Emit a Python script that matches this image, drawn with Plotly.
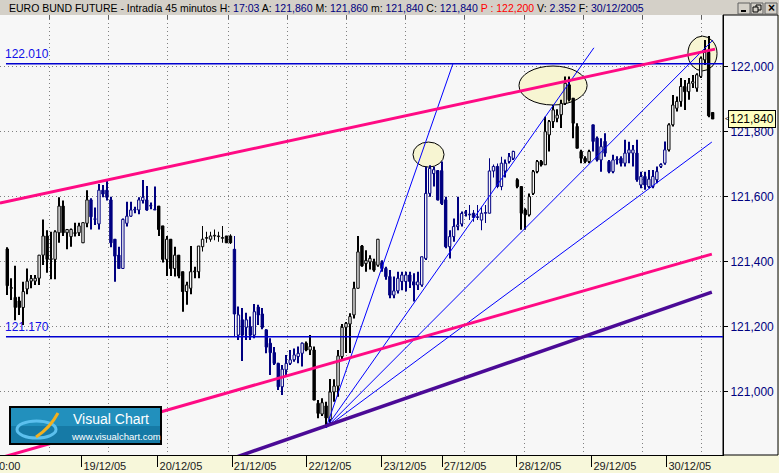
import plotly.graph_objects as go

# ---------------- data ----------------
days = ["16/12/05", "19/12/05", "20/12/05", "21/12/05", "22/12/05",
        "23/12/05", "27/12/05", "28/12/05", "29/12/05", "30/12/05"]
# x positions (bar index) of the date ticks for days[1:]
day_tick_pos = [18.7, 37.8, 56.4, 75.2, 94.0, 109.1, 127.9, 146.7, 165.5]
grid_pos = [10.7, 25.5, 40.3, 55.4, 70.2, 85.2, 99.8, 114.8, 129.7, 144.5, 159.5, 174.1]
price_ticks = [121000, 121200, 121400, 121600, 121800, 122000]

# (open, high, low, close) per 45-minute bar, one list per session
d16 = [(121440,121445,121298,121327),(121319,121350,121283,121319),(121291,121388,121221,121260),
       (121280,121293,121237,121260),(121260,121339,121206,121309),(121317,121380,121301,121341),
       (121341,121360,121319,121349),(121341,121360,121329,121350),(121350,121421,121329,121421),
       (121421,121531,121391,121480),(121480,121498,121367,121408),(121408,121493,121347,121408),
       (121408,121498,121347,121493),(121490,121599,121459,121572),(121572,121589,121480,121490),
       (121490,121500,121439,121500),(121478,121503,121447,121500),(121490,121521,121478,121488),
       (121490,121521,121480,121511),(121459,121521,121459,121521),(121519,121621,121507,121591)]
d19 = [(121591,121596,121500,121539),(121531,121568,121514,121531),(121517,121640,121500,121621),
       (121621,121637,121599,121609),(121621,121652,121589,121599),(121591,121601,121445,121459),
       (121470,121470,121339,121418),(121421,121447,121380,121380),(121380,121534,121380,121531),
       (121519,121585,121509,121541),(121541,121585,121539,121560),(121560,121570,121550,121560),
       (121560,121599,121547,121591),(121589,121652,121580,121599),(121591,121634,121558,121560),
       (121572,121583,121562,121572),(121560,121632,121560,121560)]
d20 = [(121572,121572,121480,121500),(121511,121511,121398,121408),(121408,121480,121357,121470),
       (121470,121470,121357,121380),(121380,121447,121355,121421),(121421,121421,121350,121357),
       (121370,121370,121247,121309),(121309,121339,121268,121329),(121319,121449,121301,121370),
       (121370,121385,121350,121370),(121370,121449,121350,121449),(121447,121511,121432,121470),
       (121473,121493,121459,121473),(121470,121493,121462,121480),(121480,121500,121467,121480),
       (121478,121493,121462,121478),(121473,121511,121459,121473),(121480,121480,121459,121459),
       (121480,121485,121455,121459)]
d21 = [(121439,121480,121170,121240),(121175,121263,121160,121237),(121222,121258,121095,121175),
       (121199,121244,121160,121222),(121201,121232,121160,121175),(121175,121271,121165,121247),
       (121261,121268,121206,121237),(121240,121258,121193,121199),(121191,121193,121119,121138),
       (121150,121165,121052,121121),(121121,121138,121083,121088),(121088,121090,121006,121016),
       (121016,121083,120991,121070),(121068,121114,121047,121088),(121088,121129,121083,121099),
       (121099,121134,121093,121114),(121109,121140,121088,121119),(121119,121152,121078,121150)]
d22 = [(121150,121155,121125,121129),(121129,121175,121114,121140),(121129,121140,120975,120975),
       (120965,120975,120919,120934),(120932,120981,120926,120967),(120957,120970,120890,120920),
       (120915,121040,120900,121000),(121000,121039,120970,121018),(121018,121129,120985,121111),
       (121109,121209,121100,121199),(121199,121215,121120,121211),(121209,121242,121120,121232),
       (121237,121339,121226,121319),(121319,121480,121319,121431),(121449,121452,121385,121388),
       (121395,121436,121370,121405),(121400,121421,121377,121411),(121401,121410,121370,121375),
       (121390,121470,121385,121470)]
d23 = [(121398,121405,121370,121380),(121380,121385,121345,121355),(121355,121375,121288,121298),
       (121298,121355,121288,121311),(121311,121370,121303,121350),(121340,121370,121313,121360),
       (121340,121370,121309,121360),(121360,121370,121320,121340),(121339,121365,121278,121329),
       (121329,121370,121314,121339),(121329,121416,121324,121416),(121411,121693,121406,121611),
       (121611,121698,121601,121688),(121672,121693,121632,121684),(121681,121683,121589,121591)]
d27 = [(121681,121709,121575,121580),(121591,121601,121442,121447),(121447,121498,121411,121478),
       (121478,121534,121462,121509),(121509,121601,121498,121514),(121517,121555,121509,121549),
       (121550,121560,121540,121550),(121545,121575,121529,121545),(121550,121560,121524,121537),
       (121537,121575,121529,121537),(121529,121570,121498,121550),(121550,121575,121520,121550),
       (121550,121719,121550,121680),(121680,121700,121660,121694),(121694,121703,121627,121632),
       (121632,121724,121621,121704),(121680,121715,121660,121704),(121709,121735,121703,121724),
       (121719,121742,121714,121740)]
d28 = [(121653,121658,121627,121632),(121632,121632,121499,121550),(121560,121565,121499,121545),
       (121545,121611,121540,121601),(121611,121683,121606,121678),(121678,121714,121673,121709),
       (121709,121714,121694,121699),(121699,121847,121699,121801),(121791,121837,121740,121832),
       (121832,121883,121812,121868),(121842,121870,121830,121852),(121853,121899,121812,121888),
       (121888,121971,121883,121950),(121945,121971,121894,121899),(121904,121904,121781,121827),
       (121817,121827,121750,121750),(121740,121745,121704,121719),(121719,121725,121704,121709),
       (121709,121745,121704,121740)]
d29 = [(121822,121822,121740,121771),(121781,121786,121709,121714),(121714,121781,121678,121755),
       (121771,121796,121724,121735),(121709,121714,121673,121678),(121678,121730,121673,121714),
       (121714,121725,121700,121714),(121719,121725,121694,121704),(121704,121776,121694,121735),
       (121735,121770,121704,121745),(121735,121760,121694,121745),(121735,121776,121647,121653),
       (121637,121678,121627,121663),(121663,121678,121622,121637),(121632,121683,121627,121655),
       (121632,121683,121627,121663),(121653,121694,121642,121678),(121694,121704,121689,121700),
       (121704,121771,121699,121745)]
d30 = [(121745,121827,121740,121822),(121822,121914,121817,121883),(121873,121909,121863,121894),
       (121894,121966,121878,121940),(121940,121960,121868,121924),(121924,121966,121899,121950),
       (121950,121975,121935,121955),(121935,121981,121924,121976),(121971,122032,121966,122027),
       (122022,122083,122006,122045),(122045,122095,121845,121850),(121860,121860,121840,121840)]
sessions = [d16, d19, d20, d21, d22, d23, d27, d28, d29, d30]

# drawn studies: (bar index, price) end points
upper_channel = ([-1.83, 177.6], [121581, 122055])
lower_channel = ([-1.83, 176.8], [120797, 121424])
support_line = ([55.9, 176.8], [120793, 121307])
levels = [122010, 121170]
fan_origin = (80, 120890)
fan_ends = [(111.8, 122009), (147.2, 122059), (177.1, 122083), (176.8, 121769)]
highlight_ellipses = [((101.8, 109.6), (121692, 121769)),
                      ((128.4, 145.5), (121883, 122003)),
                      ((170.8, 178.1), (121988, 122095))]
last_price = 121840

# ---------------- figure ----------------
BG = "#f7f7f7"
NAVY = "#000080"
FONT = "Liberation Sans, Arial, sans-serif"
X_RANGE = [-1.83, 179.6]
Y_RANGE = [120806, 122160]
PLOT_W, PLOT_H, TOP, BOTTOM_PX = 723, 440, 15, 455

def px_x(px):
    return px / PLOT_W

def px_y(py):
    return (BOTTOM_PX - py) / PLOT_H

fig = go.Figure()

groups = {"black": ([], [], [], [], []), "navy": ([], [], [], [], [])}
idx = 0
for day, bars in zip(days, sessions):
    key = "navy" if int(day[:2]) % 2 else "black"
    g = groups[key]
    for o, h, l, c in bars:
        g[0].append(idx); g[1].append(o); g[2].append(h); g[3].append(l); g[4].append(c)
        idx += 1

for key, col in (("black", "#000000"), ("navy", NAVY)):
    xs, op, hi, lo, cl = groups[key]
    # wicks
    fig.add_trace(go.Bar(x=xs, base=lo, y=[h - l for h, l in zip(hi, lo)], width=0.22,
                         marker=dict(color=col, line=dict(width=0)),
                         hoverinfo="skip", showlegend=False))
    # bodies
    fig.add_trace(go.Bar(x=xs, base=[min(o, c) for o, c in zip(op, cl)],
                         y=[max(abs(c - o), 2) for o, c in zip(op, cl)], width=0.6,
                         marker=dict(color=[BG if c >= o else col for o, c in zip(op, cl)],
                                     line=dict(color=col, width=1)),
                         hoverinfo="skip", showlegend=False))

# level lines
for lv in levels:
    fig.add_trace(go.Scatter(x=[-0.33, X_RANGE[1]], y=[lv, lv], mode="lines",
                             line=dict(color="#0000d0", width=1.5),
                             hoverinfo="skip", showlegend=False))
# fan lines
for ex, ey in fan_ends:
    fig.add_trace(go.Scatter(x=[fan_origin[0], ex], y=[fan_origin[1], ey], mode="lines",
                             line=dict(color="#0000ff", width=1),
                             hoverinfo="skip", showlegend=False))
# channels
for (xs, ys), col, w in ((upper_channel, "#ff0a84", 3), (lower_channel, "#ff0a84", 3),
                         (support_line, "#4b0a96", 3.5)):
    fig.add_trace(go.Scatter(x=xs, y=ys, mode="lines", line=dict(color=col, width=w),
                             hoverinfo="skip", showlegend=False))

shapes = []
for (ex0, ex1), (ey0, ey1) in highlight_ellipses:
    shapes.append(dict(type="circle", xref="x", yref="y", x0=ex0, x1=ex1, y0=ey0, y1=ey1,
                       fillcolor="#f7f5d2", line=dict(color="#000000", width=1), layer="between"))

# title bar
shapes.append(dict(type="rect", xref="paper", yref="paper", x0=-0.01, x1=1.1,
                   y0=1.0, y1=px_y(0) + 0.01, fillcolor="#d4d0c8", line=dict(width=0), layer="below"))
# right price panel
shapes.append(dict(type="rect", xref="paper", yref="paper", x0=1.0, x1=px_x(778),
                   y0=0, y1=1, fillcolor=BG, line=dict(color="#000000", width=1), layer="below"))
# window buttons
for bx0, bx1 in ((738, 750), (751, 763), (765, 777)):
    shapes.append(dict(type="rect", xref="paper", yref="paper", x0=px_x(bx0), x1=px_x(bx1),
                       y0=px_y(14), y1=px_y(3), fillcolor="#d4d0c8",
                       line=dict(color="#606060", width=1), layer="above"))
shapes.append(dict(type="line", xref="paper", yref="paper", x0=px_x(741), x1=px_x(746),
                   y0=px_y(11), y1=px_y(11), line=dict(color="#000000", width=2)))
shapes.append(dict(type="rect", xref="paper", yref="paper", x0=px_x(756), x1=px_x(761),
                   y0=px_y(10), y1=px_y(5), line=dict(color="#000000", width=1)))
shapes.append(dict(type="rect", xref="paper", yref="paper", x0=px_x(753), x1=px_x(758),
                   y0=px_y(12), y1=px_y(7), fillcolor="#d4d0c8", line=dict(color="#000000", width=1)))

# logo
shapes.append(dict(type="rect", xref="paper", yref="paper", x0=px_x(10), x1=px_x(161),
                   y0=px_y(444), y1=px_y(407), fillcolor="#167aa6",
                   line=dict(color="#000000", width=2), layer="above"))
shapes.append(dict(type="rect", xref="paper", yref="paper", x0=px_x(11), x1=px_x(160),
                   y0=px_y(426), y1=px_y(408), fillcolor="#2290bd",
                   line=dict(width=0), layer="above"))
shapes.append(dict(type="circle", xref="paper", yref="paper", x0=px_x(17), x1=px_x(56),
                   y0=px_y(438), y1=px_y(421), line=dict(color="#5cc0ee", width=3), layer="above"))
shapes.append(dict(type="path", xref="paper", yref="paper",
                   path="M %f %f Q %f %f %f %f" % (px_x(36), px_y(437), px_x(50), px_y(428),
                                                     px_x(58), px_y(413)),
                   line=dict(color="#f2b01e", width=3), layer="above"))

annotations = [
    dict(xref="paper", yref="paper", x=px_x(7), y=px_y(8), xanchor="left", yanchor="middle",
         showarrow=False, font=dict(family=FONT, size=10.5, color="#000000"),
         text=("EURO BUND FUTURE - Intradía 45 minutos H: <span style='color:#000080'>17:03</span>"
               " A: <span style='color:#000080'>121,860</span>"
               " M: <span style='color:#000080'>121,860</span>"
               " m: <span style='color:#000080'>121,840</span>"
               " C: <span style='color:#000080'>121,840</span>"
               " <span style='color:#ff0000'>P : 122,200</span>"
               " V: <span style='color:#000080'>2.352</span>"
               " F: <span style='color:#000080'>30/12/2005</span>")),
    dict(xref="paper", yref="paper", x=px_x(71), y=px_y(419), xanchor="left", yanchor="middle",
         showarrow=False, text="Visual Chart", font=dict(family=FONT, size=14, color="#ffffff")),
    dict(xref="paper", yref="paper", x=px_x(69), y=px_y(436), xanchor="left", yanchor="middle",
         showarrow=False, text="www.visualchart.com", font=dict(family=FONT, size=9.5, color="#ffffff")),
    dict(xref="paper", yref="paper", x=0, xshift=-3, y=px_y(466), xanchor="left", yanchor="middle",
         showarrow=False, text="0:00", font=dict(family=FONT, size=11, color="#202020")),
    dict(xref="paper", yref="y", x=px_x(728), y=last_price, xanchor="left", yanchor="middle",
         showarrow=False, text="{:,}".format(last_price), bgcolor="#ffffc0", bordercolor="#000000",
         borderwidth=1, borderpad=1, font=dict(family=FONT, size=12, color="#000000")),
    dict(xref="paper", yref="y", x=px_x(722.5), y=last_price, xanchor="left", yanchor="middle",
         showarrow=False, text="<", font=dict(family=FONT, size=8, color="#000000")),
    dict(xref="paper", yref="paper", x=px_x(771), y=px_y(8.5), xanchor="center", yanchor="middle",
         showarrow=False, text="<b>×</b>", font=dict(family=FONT, size=12, color="#000000")),
]
for lv in levels:
    annotations.append(dict(xref="paper", yref="y", x=px_x(3), y=lv, xanchor="left", yanchor="bottom",
                            yshift=1, showarrow=False, text="{:.3f}".format(lv / 1000),
                            font=dict(family=FONT, size=12, color="#1010e8")))

fig.update_layout(
    width=779, height=473,
    margin=dict(l=0, r=56, t=TOP, b=18, pad=0),
    paper_bgcolor="#f7f7da", plot_bgcolor=BG,
    showlegend=False, shapes=shapes, annotations=annotations,
    barmode="overlay",
    font=dict(family=FONT),
    xaxis=dict(range=X_RANGE, tickmode="array", tickvals=grid_pos, showticklabels=False,
               showgrid=True, gridcolor="#808080", griddash="1px,3px", gridwidth=1,
               ticks="", zeroline=False, showline=True, linecolor="#000000", linewidth=1,
               fixedrange=True),
    xaxis2=dict(overlaying="x", anchor="y", side="bottom", range=X_RANGE, tickmode="array",
                tickvals=day_tick_pos, ticktext=days[1:], ticks="outside", ticklen=11,
                tickcolor="#000000", showgrid=False, zeroline=False, showline=False,
                ticklabelshift=23, ticklabelstandoff=-10,
                tickfont=dict(family=FONT, size=11, color="#202020")),
    xaxis3=dict(overlaying="x", anchor="y", side="top", range=X_RANGE, tickmode="array",
                tickvals=grid_pos, ticks="inside", ticklen=4, tickcolor="#606060",
                showticklabels=False, showgrid=False, zeroline=False, showline=False),
    yaxis=dict(range=Y_RANGE, side="right", tickmode="array", tickvals=price_ticks,
               ticktext=["{:,}".format(v) for v in price_ticks], ticks="outside", ticklen=4,
               tickcolor="#000000", tickfont=dict(family=FONT, size=12, color=NAVY),
               showgrid=True, gridcolor="#808080", griddash="1px,3px", gridwidth=1,
               zeroline=False, showline=True, linecolor="#000000", linewidth=1, fixedrange=True),
)
# invisible traces to activate overlay axes
fig.add_trace(go.Scatter(x=[0], y=[121000], xaxis="x2", mode="markers", marker=dict(opacity=0),
                         hoverinfo="skip", showlegend=False))
fig.add_trace(go.Scatter(x=[0], y=[121000], xaxis="x3", mode="markers", marker=dict(opacity=0),
                         hoverinfo="skip", showlegend=False))

fig.write_html("out.html", config={"displayModeBar": False},
               post_script="document.body.style.margin='0px';")
